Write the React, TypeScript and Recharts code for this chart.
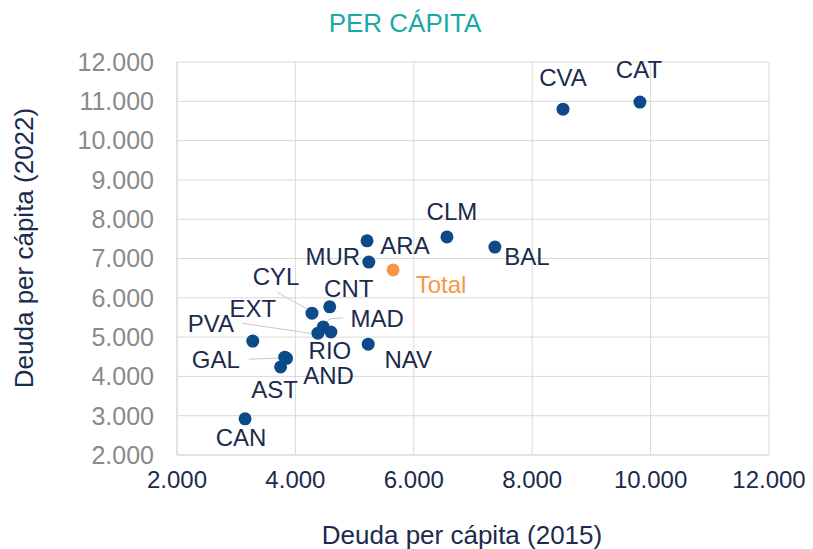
import { ScatterChart, Scatter, XAxis, YAxis, CartesianGrid } from 'recharts';

const regions = ['CAT', 'CVA', 'CLM', 'BAL', 'ARA', 'MUR', 'CYL', 'CNT', 'MAD', 'RIO', 'EXT', 'PVA', 'NAV', 'GAL', 'AND', 'AST', 'CAN'];
const debt2015 = [9820, 8520, 6560, 7370, 5210, 5240, 4280, 4580, 4470, 4600, 4380, 3280, 5230, 3820, 3850, 3750, 3150];
const debt2022 = [10980, 10800, 7550, 7290, 7450, 6910, 5610, 5770, 5260, 5130, 5100, 4900, 4820, 4490, 4460, 4240, 2920];

const totalLabel = ['Total'];
const total2015 = [5650];
const total2022 = [6710];

const xTicks = [2000, 4000, 6000, 8000, 10000, 12000];
const yTicks = [2000, 3000, 4000, 5000, 6000, 7000, 8000, 9000, 10000, 11000, 12000];

// label placement relative to the dot (px)
const labelOffset: Record<string, [number, number]> = {
  CAT: [-1, -33], CVA: [0, -32], CLM: [5, -25], BAL: [32, 9], ARA: [38, 5], MUR: [-36, -6],
  Total: [48, 15], CYL: [-36, -37], CNT: [19, -18], EXT: [-65, -25], MAD: [54, -8],
  PVA: [-42, -18], RIO: [-1, 19], GAL: [-69, 2], NAV: [40, 15], AND: [42, 17], AST: [-6, 23], CAN: [-4, 19],
};

// leader lines, points relative to the dot
const leaders: Record<string, [number, number][]> = {
  CYL: [[-35, -21], [-3, -3]],
  EXT: [[-76, -10], [-2, 1]],
  MAD: [[20, -9], [6, -8], [1, -1]],
  GAL: [[-36, 2], [-6, 1]],
};

const regionData = regions.map((name, i) => ({ name, x: debt2015[i], y: debt2022[i] }));
const totalData = totalLabel.map((name, i) => ({ name, x: total2015[i], y: total2022[i] }));

const fmt = (v: number) => String(v).replace(/\B(?=(\d{3})+(?!\d))/g, '.');

const FONT = '"Liberation Sans", Arial, sans-serif';
const NAVY = '#1b2b4d';

const makeDot = (fill: string, textColor: string) => (props: any) => {
  const { cx, cy, payload } = props;
  const off = labelOffset[payload.name] || [0, -20];
  const lead = leaders[payload.name];
  return (
    <g>
      {lead && (
        <polyline
          points={lead.map(([a, b]) => `${cx + a},${cy + b}`).join(' ')}
          fill="none"
          stroke="#c8c8c8"
          strokeWidth={1}
        />
      )}
      <circle cx={cx} cy={cy} r={6.5} fill={fill} />
      <text
        x={cx + off[0]}
        y={cy + off[1]}
        textAnchor="middle"
        dominantBaseline="central"
        fontFamily={FONT}
        fontSize={24}
        fill={textColor}
      >
        {payload.name}
      </text>
    </g>
  );
};

export default function App() {
  return (
    <ScatterChart width={805} height={541} margin={{ top: 54, right: 44, left: 0, bottom: 0 }}>
      <text x={397} y={15} textAnchor="middle" dominantBaseline="central" fontFamily={FONT} fontSize={26} fill="#1aa9a5">
        PER CÁPITA
      </text>
      <CartesianGrid stroke="#d9d9d9" />
      <XAxis
        type="number"
        dataKey="x"
        domain={[2000, 12000]}
        ticks={xTicks}
        tickFormatter={fmt}
        height={94}
        tickSize={0}
        tickMargin={16}
        axisLine={{ stroke: '#d9d9d9' }}
        tick={{ fill: NAVY, fontSize: 24, fontFamily: FONT }}
      />
      <YAxis
        type="number"
        dataKey="y"
        domain={[2000, 12000]}
        ticks={yTicks}
        tickFormatter={fmt}
        width={169}
        tickSize={0}
        tickMargin={23}
        axisLine={{ stroke: '#d9d9d9' }}
        tick={{ fill: '#8a8a8a', fontSize: 25, fontFamily: FONT }}
      />
      <Scatter data={regionData} isAnimationActive={false} shape={makeDot('#0c4a8a', NAVY)} />
      <Scatter data={totalData} isAnimationActive={false} shape={makeDot('#f79646', '#f79646')} />
      <text x={454} y={527} textAnchor="middle" dominantBaseline="central" fontFamily={FONT} fontSize={26} fill={NAVY}>
        Deuda per cápita (2015)
      </text>
      <text
        x={16}
        y={240}
        textAnchor="middle"
        dominantBaseline="central"
        fontFamily={FONT}
        fontSize={26}
        fill={NAVY}
        transform="rotate(-90 16 240)"
      >
        Deuda per cápita (2022)
      </text>
    </ScatterChart>
  );
}
